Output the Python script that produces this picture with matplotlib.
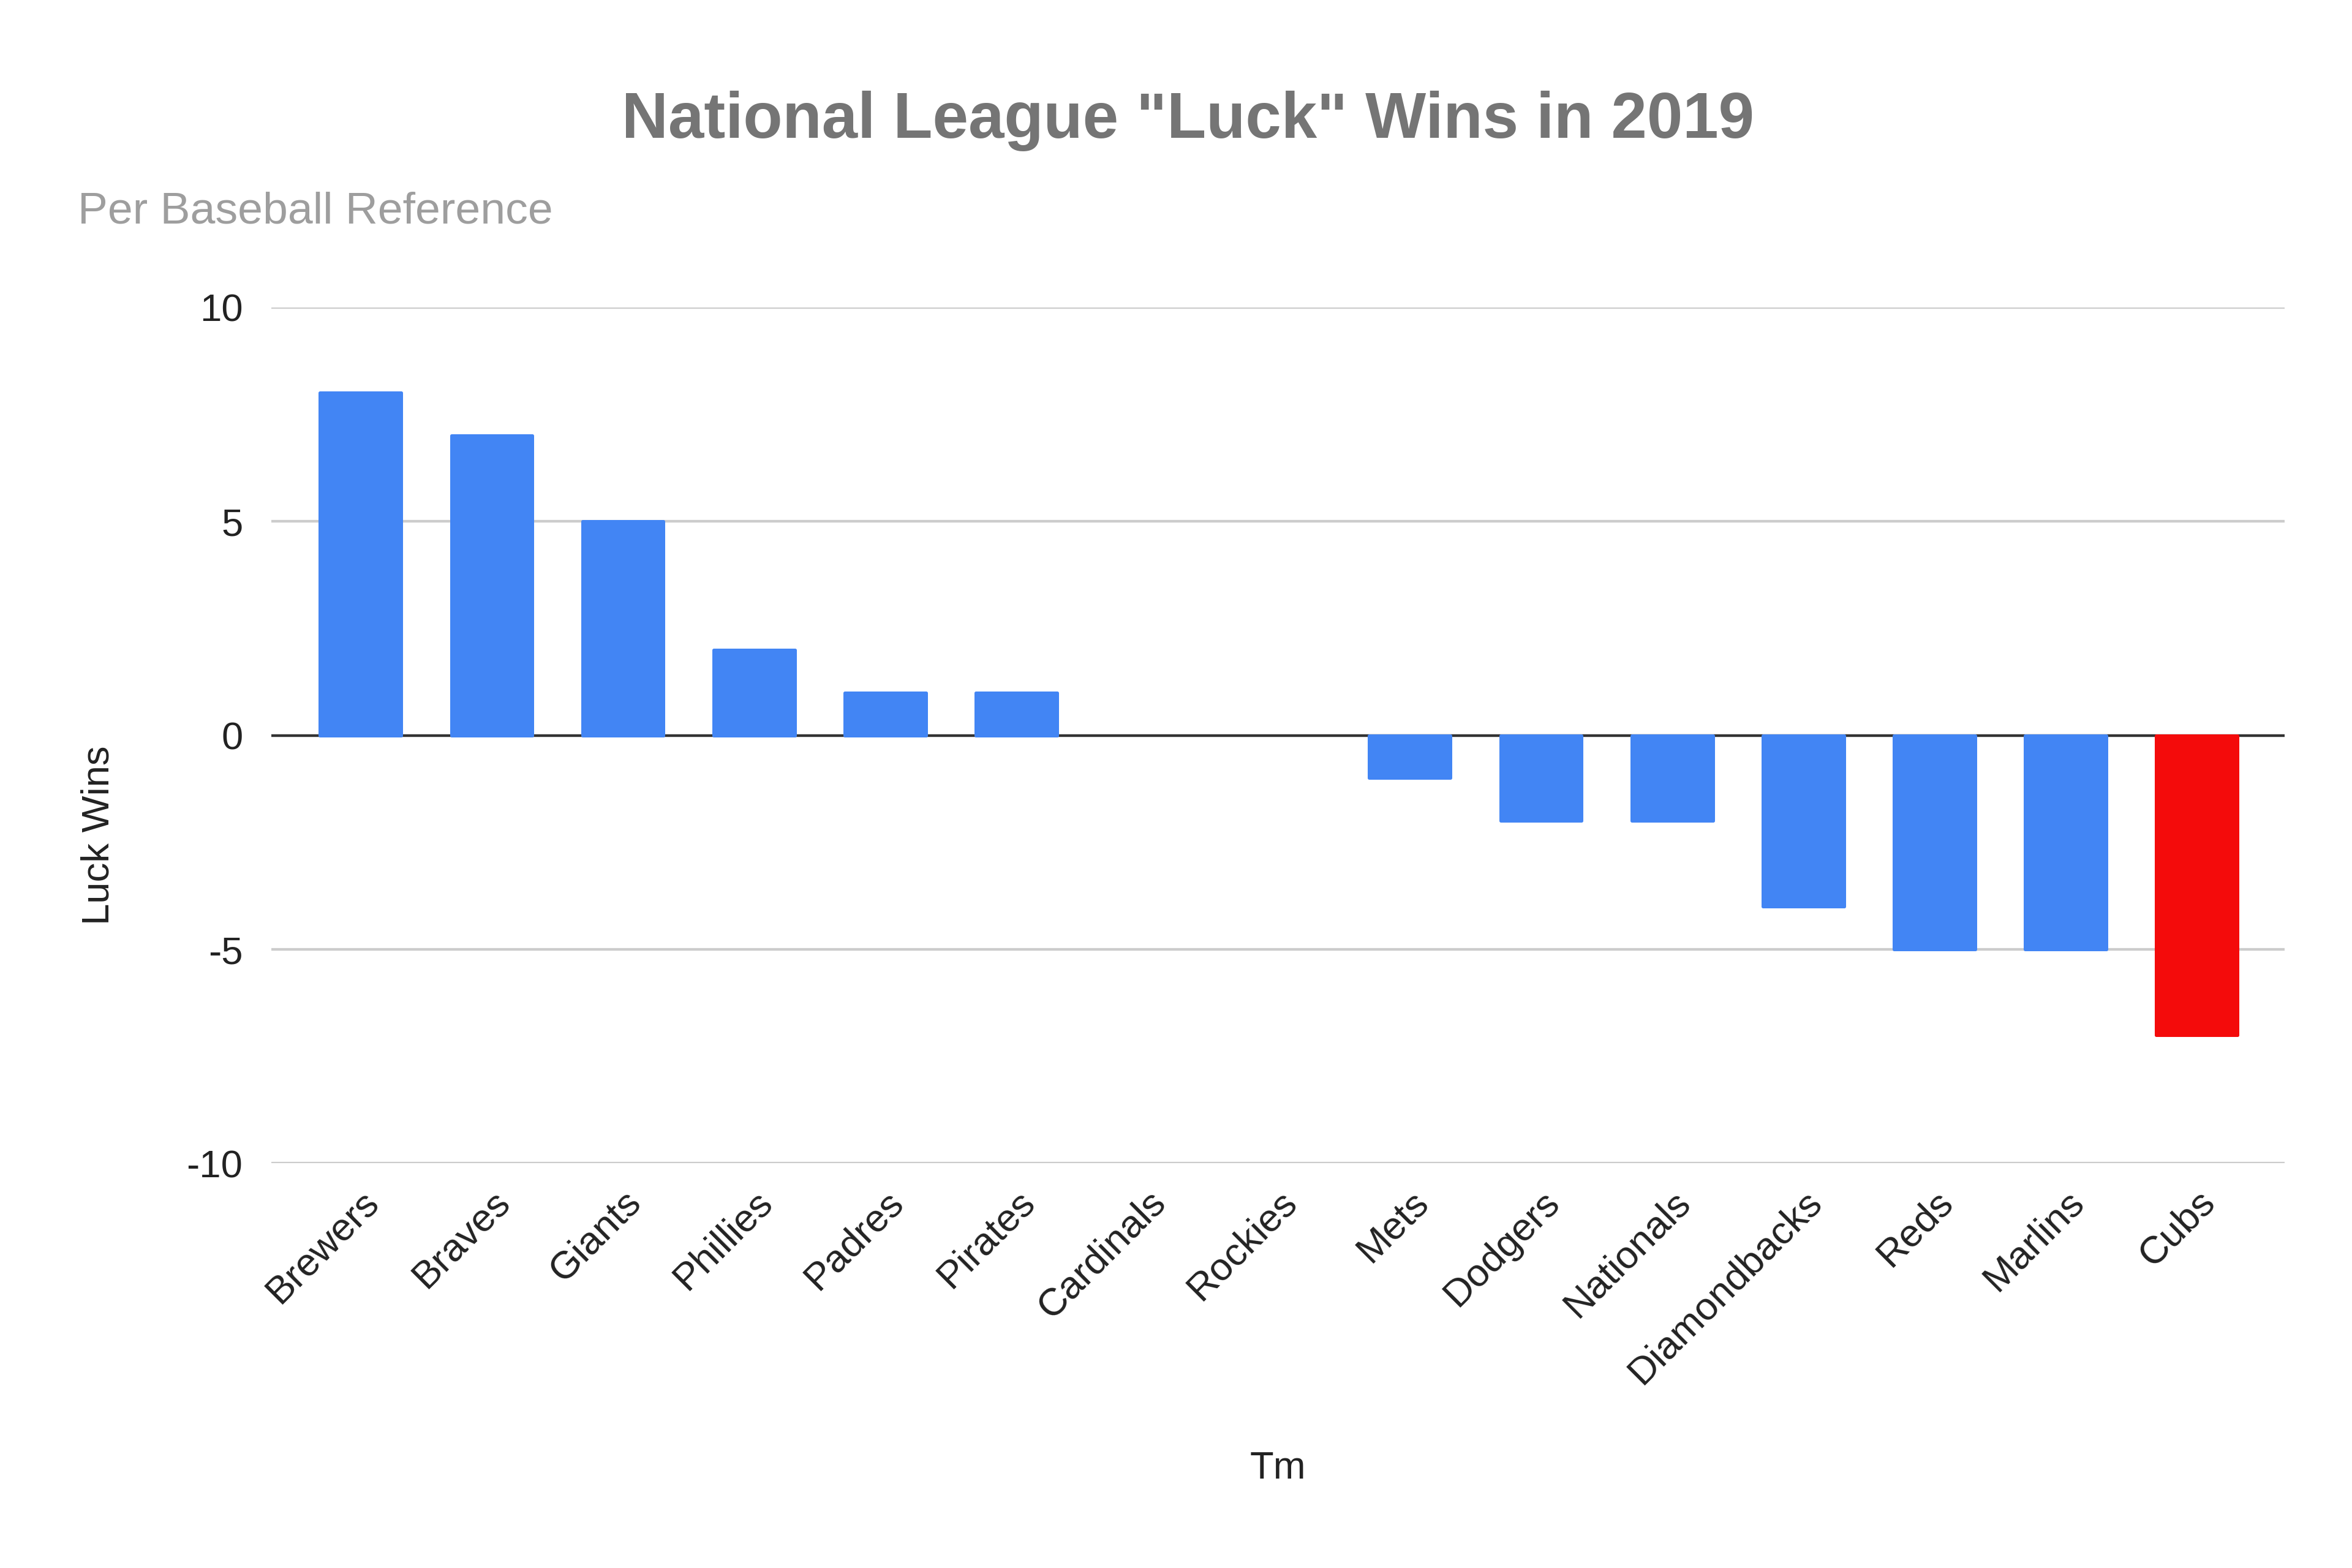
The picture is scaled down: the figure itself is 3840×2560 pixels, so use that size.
import matplotlib
matplotlib.use("Agg")
import matplotlib.pyplot as plt

plt.rcParams.update({
    "font.family": ["Liberation Sans", "DejaVu Sans"],
    "axes.unicode_minus": False,
})

teams = ["Brewers", "Braves", "Giants", "Phillies", "Padres", "Pirates",
         "Cardinals", "Rockies", "Mets", "Dodgers", "Nationals",
         "Diamondbacks", "Reds", "Marlins", "Cubs"]
luck_wins = [8, 7, 5, 2, 1, 1, 0, 0, -1, -2, -2, -4, -5, -5, -7]
highlight = "Cubs"

BLUE = "#4285f4"
RED = "#f40b0b"

fig = plt.figure(figsize=(16, 10.667), dpi=240)
ax = fig.add_axes([0.1154, 0.258, 0.856, 0.546])

colors = [RED if t == highlight else BLUE for t in teams]
x = range(len(teams))
bars = ax.bar(x, luck_wins, width=0.62, color=colors, zorder=3)
# soften the corners a little, like the Sheets chart (skip empty bars)
for b, c, v in zip(bars, colors, luck_wins):
    b.set_edgecolor(c)
    b.set_linewidth(1.5 if v != 0 else 0)
    b.set_joinstyle("round")

ax.set_ylim(-10, 10)
ax.set_yticks([-10, -5, 0, 5, 10])
ax.set_xlim(-0.68, 14.67)
ax.yaxis.grid(True, color="#cccccc", linewidth=1.3)
ax.axhline(0, color="#333333", linewidth=1.3, zorder=2)
for s in ax.spines.values():
    s.set_visible(False)
ax.tick_params(axis="both", length=0, labelsize=19, colors="#222222")
ax.tick_params(axis="y", pad=14)
ax.set_xticks(list(x))
ax.set_xticklabels(teams, rotation=45, ha="right", rotation_mode="anchor")
ax.tick_params(axis="x", pad=10)

ax.set_xlabel("Tm", fontsize=19, color="#222222")
ax.set_ylabel("Luck Wins", fontsize=19, color="#222222")
ax.xaxis.set_label_coords(0.5, -0.335)
ax.yaxis.set_label_coords(-0.077, 0.383)

fig.text(0.505, 0.923, 'National League "Luck" Wins in 2019', ha="center",
         va="center", fontsize=31.5, fontweight="bold", color="#757575")
fig.text(0.033, 0.865, "Per Baseball Reference", ha="left", va="center",
         fontsize=22, color="#9e9e9e")

fig.savefig("out.png", dpi=240)
